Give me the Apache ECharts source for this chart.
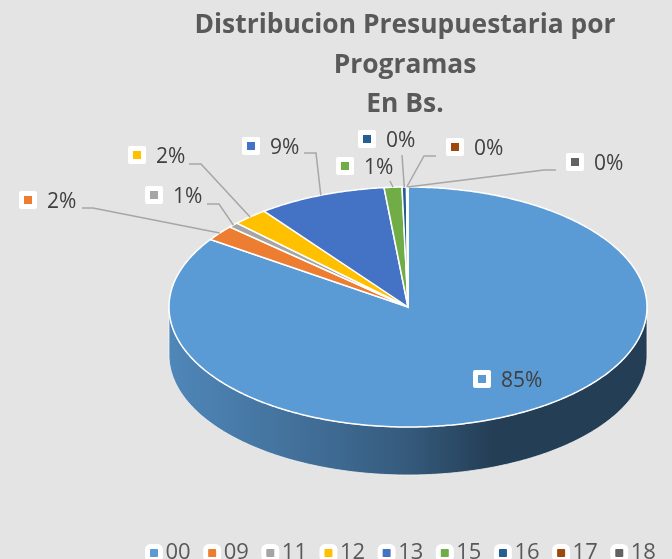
<!DOCTYPE html>
<html>
<head>
<meta charset="utf-8">
<style>
  html, body { margin: 0; padding: 0; background: #e4e4e4; }
  #main { width: 672px; height: 559px; }
</style>
<script src="https://cdn.jsdelivr.net/npm/echarts@6/dist/echarts.min.js"></script>
</head>
<body>
<div id="main"></div>
<script>
  // datos (% aproximado)
  var categories = ['00', '09', '11', '12', '13', '15', '16', '17', '18'];
  var values = [84.6, 2.1, 0.7, 2.4, 8.7, 1.2, 0.3, 0.03, 0.07];
  var colors = ['#5B9BD5', '#ED7D31', '#A5A5A5', '#FFC000', '#4472C4', '#70AD47', '#255E91', '#9E480E', '#636363'];
  var titleText = 'Distribucion Presupuestaria por\nProgramas\nEn Bs.';

  // elipse del pastel
  var cx = 408, cy = 307, rx = 239, ry = 120, depth = 48;
  var fontName = '"Open Sans", sans-serif';

  // donde va cada etiqueta: x del cuadro, y central, quiebres de la linea guia
  var labelPos = [
    { x: 473, y: 379, line: [] },
    { x: 19, y: 200, line: [[82, 208], [93, 208]] },
    { x: 145, y: 195, line: [[207, 204], [219, 204]] },
    { x: 128, y: 155, line: [[189, 164], [201, 164]] },
    { x: 242, y: 146, line: [[304, 153], [316, 153]] },
    { x: 336, y: 166, line: [[390, 181]] },
    { x: 358, y: 139, line: [[402, 155]] },
    { x: 446, y: 147, line: [[436, 156], [424, 156]] },
    { x: 566, y: 162, line: [[556, 170], [544, 170]] }
  ];

  var total = values.reduce(function(a, b) { return a + b; }, 0);

  function edge(t, dy) {
    return [cx + rx * Math.sin(t), cy - ry * Math.cos(t) + (dy || 0)];
  }

  function sliceAngles(i) {
    var before = 0;
    for (var k = 0; k < i; k++) before += values[k];
    return [before / total * Math.PI * 2, (before + values[i]) / total * Math.PI * 2];
  }

  function arcPoints(a0, a1, dy) {
    var pts = [];
    var n = Math.max(2, Math.ceil((a1 - a0) / 0.01));
    for (var s = 0; s <= n; s++) pts.push(edge(a0 + (a1 - a0) * s / n, dy));
    return pts;
  }

  // oscurece un color hex, f = cuanto queda del original
  function shade(hex, f) {
    var n = parseInt(hex.slice(1), 16);
    return 'rgb(' + Math.round((n >> 16) * f) + ',' + Math.round(((n >> 8) & 255) * f) + ',' + Math.round((n & 255) * f) + ')';
  }

  function renderSlice(i) {
    var a = sliceAngles(i);
    var color = colors[i];
    var children = [];

    // pared lateral, solo la parte de abajo se ve
    var w0 = Math.max(a[0], Math.PI / 2), w1 = Math.min(a[1], Math.PI * 1.5);
    if (w1 > w0) {
      var wall = arcPoints(w0, w1, 0).concat(arcPoints(w0, w1, depth).reverse());
      children.push({
        type: 'polygon',
        shape: { points: wall },
        style: {
          fill: new echarts.graphic.LinearGradient(cx - rx, 0, cx + rx, 0, [
            { offset: 0, color: shade(color, 0.87) },
            { offset: 0.35, color: shade(color, 0.68) },
            { offset: 0.5, color: shade(color, 0.58) },
            { offset: 0.68, color: shade(color, 0.4) },
            { offset: 1, color: shade(color, 0.4) }
          ], true),
          stroke: '#f4f4f4',
          lineWidth: 0.8
        }
      });
    }

    // cara superior
    children.push({
      type: 'polygon',
      shape: { points: [[cx, cy]].concat(arcPoints(a[0], a[1], 0)) },
      style: { fill: color, stroke: '#fff', lineWidth: 1.5 }
    });

    // etiqueta
    var p = labelPos[i];
    if (p.line.length) {
      children.push({
        type: 'polyline',
        shape: { points: p.line.concat([edge((a[0] + a[1]) / 2)]) },
        style: { fill: null, stroke: '#a6a6a6', lineWidth: 1.5 },
        z2: 5
      });
    }
    children.push({
      type: 'rect',
      shape: { x: p.x, y: p.y - 9, width: 18, height: 18, r: 2 },
      style: { fill: '#fff' },
      z2: 6
    });
    children.push({
      type: 'rect',
      shape: { x: p.x + 5, y: p.y - 4, width: 8, height: 8 },
      style: { fill: color },
      z2: 7
    });
    children.push({
      type: 'text',
      style: {
        x: p.x + 28, y: p.y + 2,
        text: Math.round(values[i] / total * 100) + '%',
        fill: '#404040',
        fontSize: 21,
        fontFamily: fontName,
        verticalAlign: 'middle'
      },
      z2: 7
    });
    return { type: 'group', children: children };
  }

  var series = categories.map(function(name, i) {
    return {
      name: name,
      type: 'custom',
      coordinateSystem: 'none',
      itemStyle: { color: colors[i] },
      data: [[values[i]]],
      silent: true,
      renderItem: function() { return renderSlice(i); }
    };
  });

  var myChart = echarts.init(document.getElementById('main'));
  var option = {
    backgroundColor: '#e4e4e4',
    animation: false,
    title: {
      text: titleText,
      left: 400,
      top: 1,
      textAlign: 'center',
      textStyle: {
        color: '#595959',
        fontSize: 26.4,
        fontWeight: 'bold',
        fontFamily: fontName,
        lineHeight: 39.5
      }
    },
    legend: {
      data: categories,
      left: 145,
      top: 542,
      padding: 0,
      itemWidth: 13,
      itemHeight: 13,
      itemGap: 12.5,
      itemStyle: { borderColor: '#fff', borderWidth: 5, borderJoin: 'round' },
      textStyle: { color: '#595959', fontSize: 22, fontFamily: fontName, padding: 0 }
    },
    series: series
  };
  myChart.setOption(option);
</script>
</body>
</html>
